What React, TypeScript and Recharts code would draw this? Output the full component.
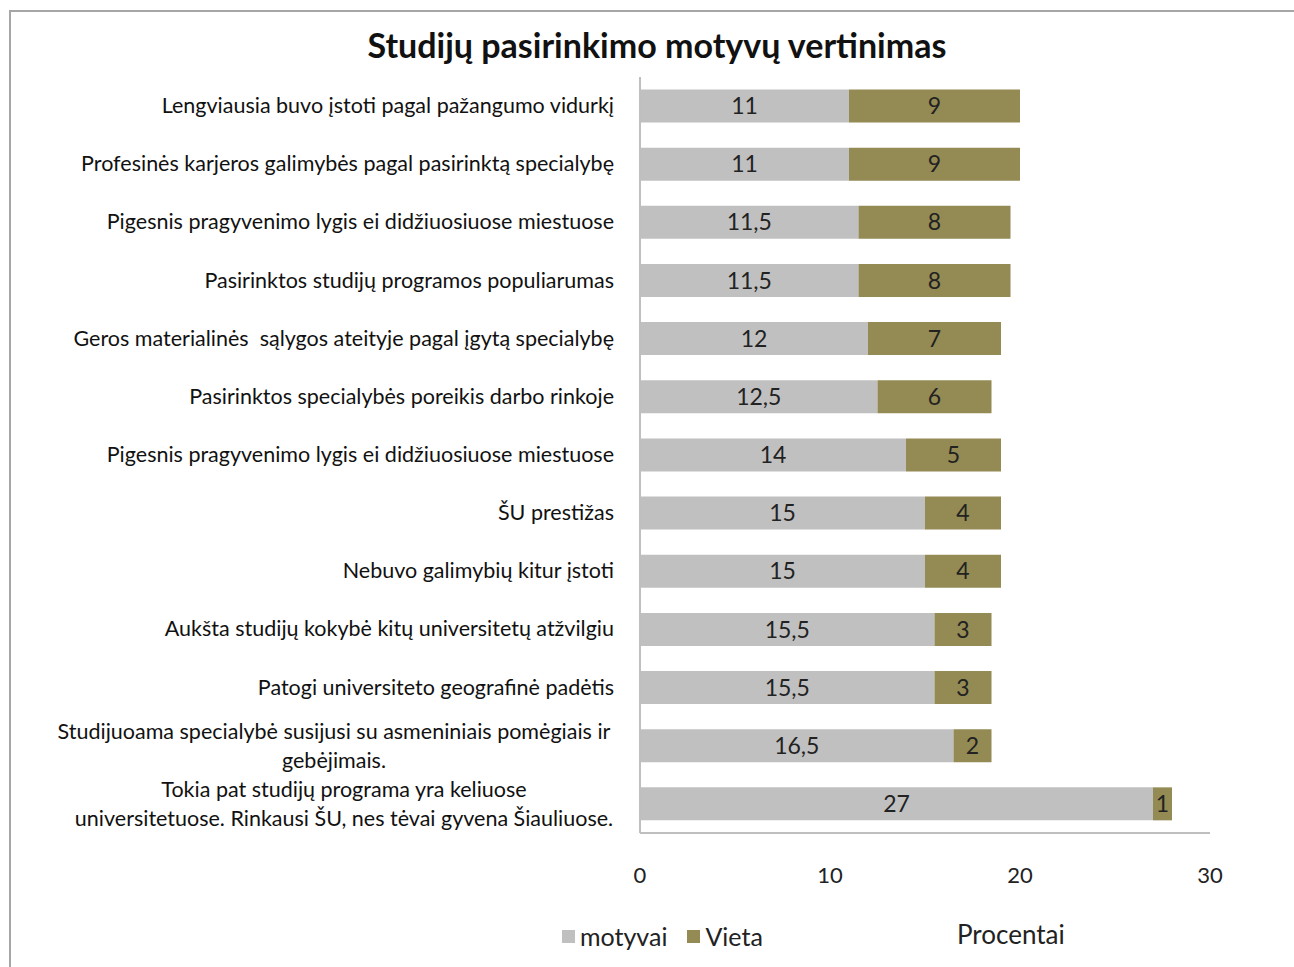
import React from "react";
import { BarChart, Bar, XAxis, YAxis, LabelList } from "recharts";

const categories = [
  ["Lengviausia buvo įstoti pagal pažangumo vidurkį"],
  ["Profesinės karjeros galimybės pagal pasirinktą specialybę"],
  ["Pigesnis pragyvenimo lygis ei didžiuosiuose miestuose"],
  ["Pasirinktos studijų programos populiarumas"],
  ["Geros materialinės  sąlygos ateityje pagal įgytą specialybę"],
  ["Pasirinktos specialybės poreikis darbo rinkoje"],
  ["Pigesnis pragyvenimo lygis ei didžiuosiuose miestuose "],
  ["ŠU prestižas"],
  ["Nebuvo galimybių kitur įstoti"],
  ["Aukšta studijų kokybė kitų universitetų atžvilgiu"],
  ["Patogi universiteto geografinė padėtis"],
  ["Studijuoama specialybė susijusi su asmeniniais pomėgiais ir", "gebėjimais."],
  ["Tokia pat studijų programa yra keliuose", "universitetuose. Rinkausi ŠU, nes tėvai gyvena Šiauliuose."],
];
const motyvai = [11, 11, 11.5, 11.5, 12, 12.5, 14, 15, 15, 15.5, 15.5, 16.5, 27];
const vieta = [9, 9, 8, 8, 7, 6, 5, 4, 4, 3, 3, 2, 1];
const xTicks = [0, 10, 20, 30];

const data = categories.map((lines, i) => ({
  name: lines.join(" "),
  lines,
  motyvai: motyvai[i],
  vieta: vieta[i],
}));

const FONT = "Lato, 'Open Sans', sans-serif";
const GRAY = "#C0C0C0";
const OLIVE = "#948A54";

const fmt = (v: any) => String(v).replace(".", ",");

function CategoryTick(props: any) {
  const { y, payload, index } = props;
  const lines: string[] = data[index] ? data[index].lines : [payload.value];
  if (lines.length === 1) {
    return (
      <text x={614} y={y} dy={7} textAnchor="end" fill="#111" fontSize={21.5}
        fontFamily={FONT} style={{ whiteSpace: "pre" }}>
        {lines[0].trim()}
      </text>
    );
  }
  const cx = index === 11 ? 334 : 344;
  return (
    <text x={cx} y={y} textAnchor="middle" fill="#111" fontSize={21.5} fontFamily={FONT}>
      <tspan x={cx} dy={-7}>{lines[0]}</tspan>
      <tspan x={cx} dy={29}>{lines[1]}</tspan>
    </text>
  );
}

function LegendItem({ color, text }: { color: string; text: string }) {
  return (
    <span style={{ display: "inline-flex", alignItems: "center", marginRight: 20 }}>
      <span style={{ width: 13, height: 13, background: color, display: "inline-block", marginRight: 5 }} />
      <span>{text}</span>
    </span>
  );
}

export default function App() {
  return (
    <div style={{ position: "absolute", left: 0, top: 0, width: 1294, height: 967, background: "#fff", overflow: "hidden" }}>
      <div style={{ position: "absolute", left: 9, top: 10, right: -5, bottom: -5, borderTop: "2px solid #A6A6A6", borderLeft: "2px solid #A6A6A6" }} />
      <div style={{ position: "absolute", left: 0, width: 1314, top: 24, textAlign: "center", fontFamily: FONT, fontWeight: 700, fontSize: 34, color: "#111" }}>
        Studijų pasirinkimo motyvų vertinimas
      </div>
      <div style={{ position: "absolute", left: 957, top: 918, fontFamily: FONT, fontSize: 26, color: "#222" }}>
        Procentai
      </div>
      <div style={{ position: "absolute", left: 562, top: 921, fontFamily: FONT, fontSize: 25, color: "#222", display: "flex" }}>
        <LegendItem color={GRAY} text="motyvai" />
        <LegendItem color={OLIVE} text="Vieta" />
      </div>
      <BarChart
        layout="vertical"
        width={1294}
        height={967}
        data={data}
        margin={{ top: 77, right: 84, bottom: 74, left: 0 }}
        barCategoryGap="21.5%"
        style={{ position: "absolute", left: 0, top: 0 }}
      >
        <XAxis
          type="number"
          domain={[0, 30]}
          ticks={xTicks}
          tickLine={false}
          tickSize={0}
          tickMargin={34}
          axisLine={{ stroke: "#BFBFBF", strokeWidth: 2 }}
          tick={{ fill: "#222", fontSize: 22, fontFamily: FONT }}
          height={60}
        />
        <YAxis
          type="category"
          dataKey="name"
          width={640}
          tickLine={false}
          axisLine={{ stroke: "#BFBFBF", strokeWidth: 2 }}
          tick={<CategoryTick />}
          interval={0}
        />
        <Bar dataKey="motyvai" name="motyvai" stackId="a" fill={GRAY} isAnimationActive={false}>
          <LabelList dataKey="motyvai" position="center" formatter={fmt} fill="#222" fontSize={23} fontFamily={FONT} />
        </Bar>
        <Bar dataKey="vieta" name="Vieta" stackId="a" fill={OLIVE} isAnimationActive={false}>
          <LabelList dataKey="vieta" position="center" formatter={fmt} fill="#222" fontSize={23} fontFamily={FONT} />
        </Bar>
      </BarChart>
    </div>
  );
}
